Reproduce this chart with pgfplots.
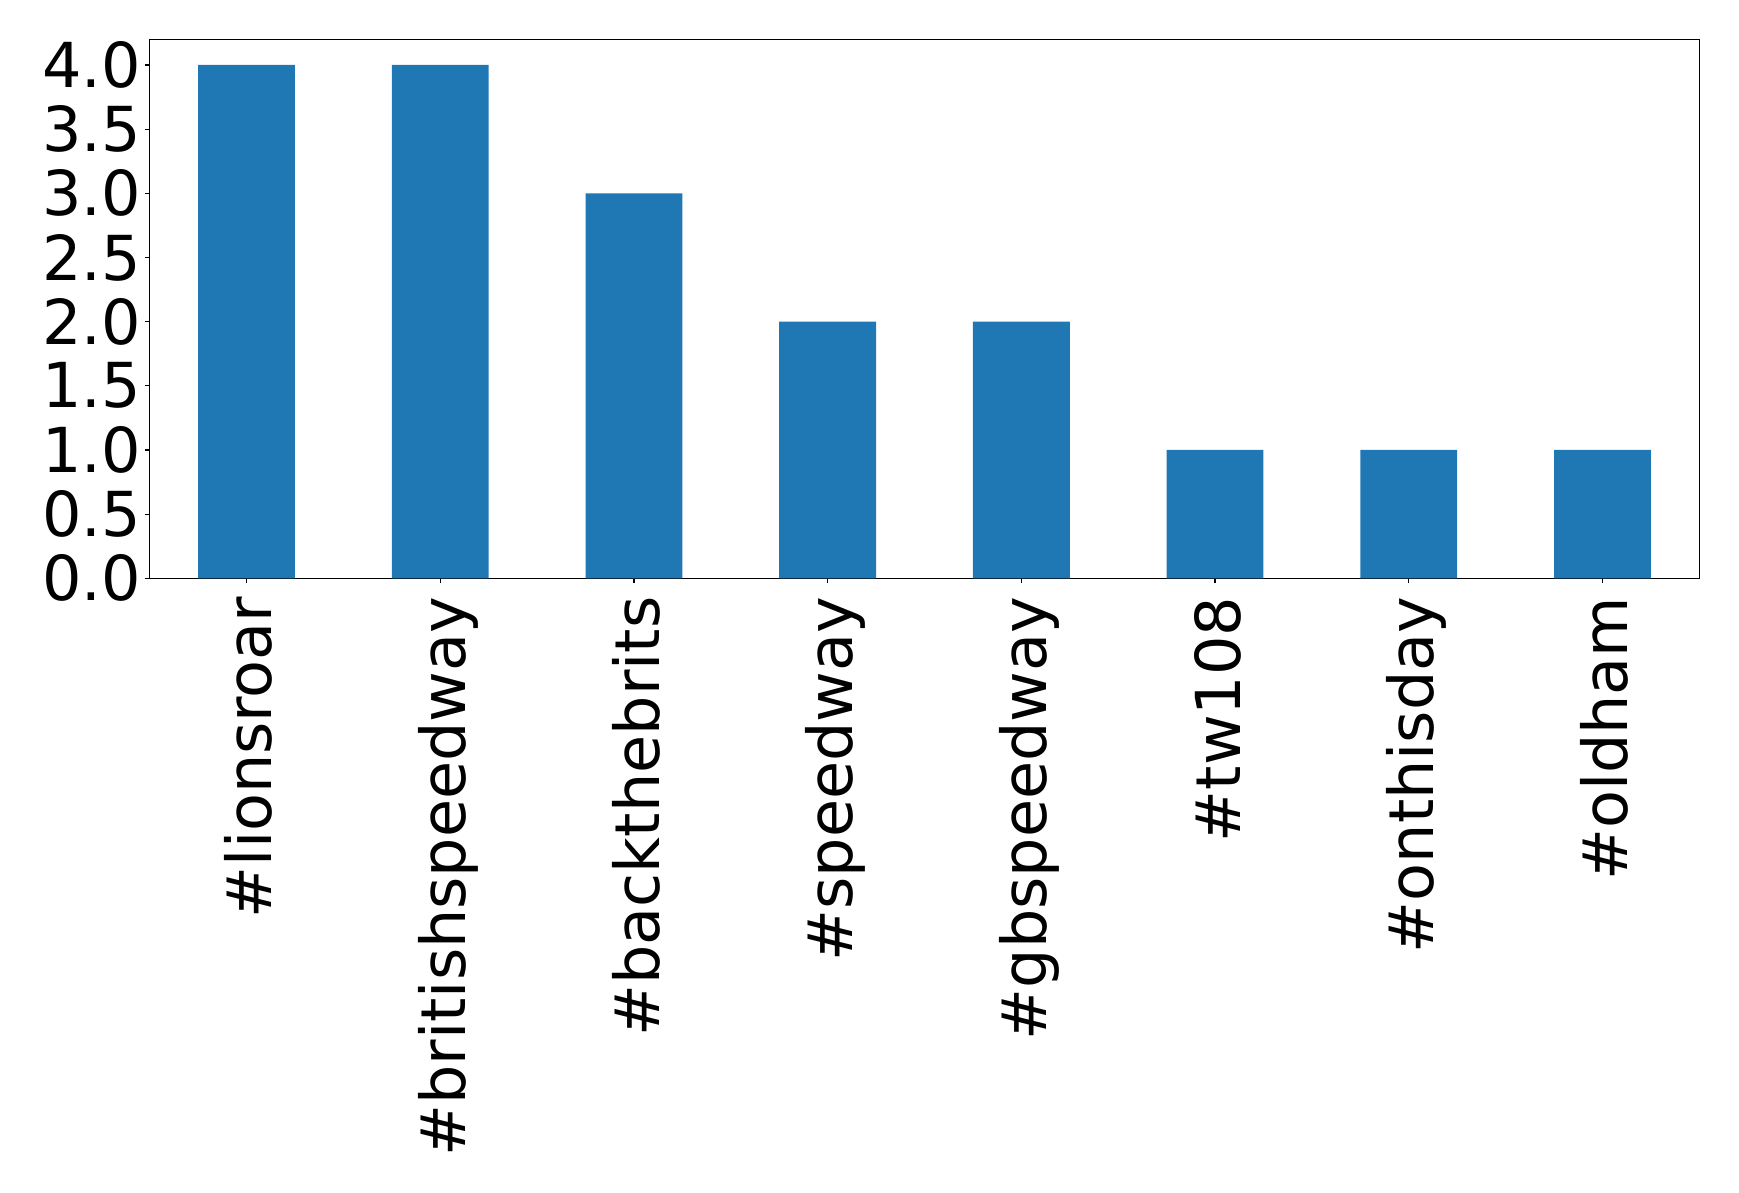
\documentclass[border=0pt]{standalone}
\usepackage{pgfplots}
\pgfplotsset{compat=1.18}
\usepackage{fontspec}
\setmainfont{DejaVu Sans}
\definecolor{mplblue}{HTML}{1F77B4}
\begin{document}
\begin{tikzpicture}
\begin{axis}[
  name=ax,
  scale only axis,
  width=774.8pt, height=269.5pt,
  xmin=-0.5, xmax=7.5,
  ymin=0, ymax=4.2,
  ytick={0,0.5,...,4.0},
  xtick={0,...,7},
  xticklabels={\#lionsroar,\#britishspeedway,\#backthebrits,\#speedway,\#gbspeedway,\#tw108,\#onthisday,\#oldham},
  /pgf/number format/assume math mode=true,
  yticklabel style={/pgf/number format/fixed,/pgf/number format/fixed zerofill,/pgf/number format/precision=1},
  ticklabel style={font=\fontsize{31}{37}\selectfont},
  xticklabel style={rotate=90, anchor=east, inner sep=0pt, text height=0.76em, text depth=0.24em, yshift=-10pt, xshift=-6.5pt},
  yticklabel style={inner sep=0pt, xshift=-1.8pt},
  tick align=outside,
  xtick pos=bottom, ytick pos=left,
  major tick length=2.5pt,
  tick style={black, line width=0.6pt},
  axis line style={line width=0.6pt},
  clip=false,
]
\addplot[ybar, bar width=0.5, fill=mplblue, draw=none] coordinates {
 (0,4) (1,4) (2,3) (3,2) (4,2) (5,1) (6,1) (7,1)
};
\end{axis}
\path[use as bounding box] ([xshift=-74.85pt,yshift=-306.85pt]ax.south west) rectangle ([xshift=19.85pt,yshift=19.65pt]ax.north east);
\end{tikzpicture}
\end{document}
